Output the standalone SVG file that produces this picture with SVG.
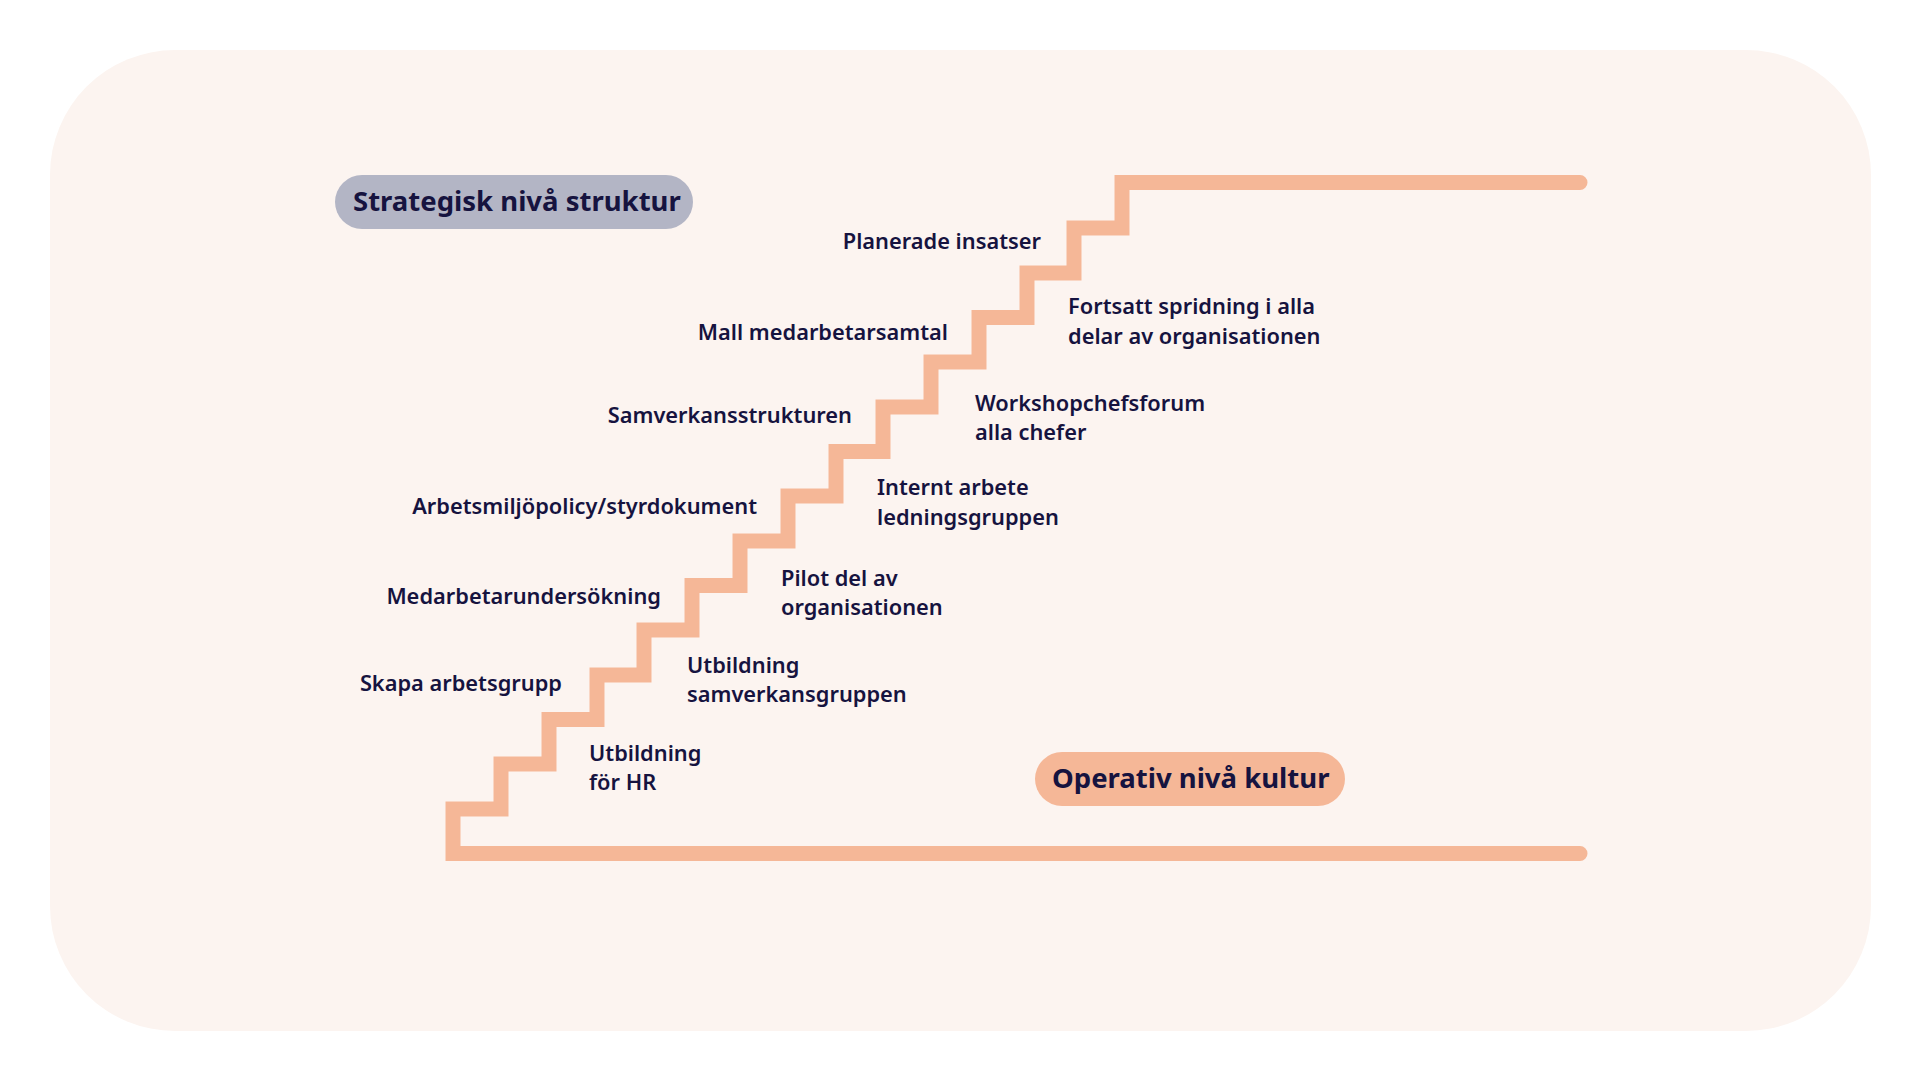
<svg xmlns="http://www.w3.org/2000/svg" width="1920" height="1080" viewBox="0 0 1920 1080">
<style>
.t{font-family:"Noto Sans","Liberation Sans",sans-serif;font-weight:600;font-size:21.8px;fill:#16133f}
.e{text-anchor:end}
.p{font-family:"Noto Sans","Liberation Sans",sans-serif;font-weight:700;font-size:27.5px;fill:#16133f}
</style>
<rect width="1920" height="1080" fill="#ffffff"/>
<rect x="50" y="50" width="1821" height="981" rx="125" fill="#fcf4f0"/>
<g id="connectors">
<path d="M1580 853.5 H453 V809 H501 V764 H549 V719.5 H597 V675 H644 V630 H692 V585.5 H740 V541 H788 V496 H836 V451.5 H883 V407 H931 V362 H979 V317.5 H1027 V273 H1074 V228 H1122 V182.5 H1580" fill="none" stroke="#f5b797" stroke-width="15" stroke-linejoin="miter" stroke-linecap="round"/>
</g>
<g id="strategisk"><rect x="335" y="175" width="358" height="54" rx="27" fill="#b3b5c5"/><text class="p" x="353" y="211">Strategisk nivå struktur</text></g>
<g id="operativ"><rect x="1035" y="752" width="310" height="54" rx="27" fill="#f5b797"/><text class="p" x="1052" y="788">Operativ nivå kultur</text></g>
<g id="n1"><text class="t e" x="1041" y="249">Planerade insatser</text></g>
<g id="n2"><text class="t e" x="948" y="340">Mall medarbetarsamtal</text></g>
<g id="n3"><text class="t e" x="852" y="423">Samverkansstrukturen</text></g>
<g id="n4"><text class="t e" x="757" y="514">Arbetsmiljöpolicy/styrdokument</text></g>
<g id="n5"><text class="t e" x="661" y="604">Medarbetarundersökning</text></g>
<g id="n6"><text class="t e" x="562" y="691">Skapa arbetsgrupp</text></g>
<g id="m1"><text class="t" x="1068" y="314">Fortsatt spridning i alla</text><text class="t" x="1068" y="344">delar av organisationen</text></g>
<g id="m2"><text class="t" x="975" y="411">Workshopchefsforum</text><text class="t" x="975" y="440">alla chefer</text></g>
<g id="m3"><text class="t" x="877" y="495">Internt arbete</text><text class="t" x="877" y="525">ledningsgruppen</text></g>
<g id="m4"><text class="t" x="781" y="586">Pilot del av</text><text class="t" x="781" y="615">organisationen</text></g>
<g id="m5"><text class="t" x="687" y="673">Utbildning</text><text class="t" x="687" y="702">samverkansgruppen</text></g>
<g id="m6"><text class="t" x="589" y="761">Utbildning</text><text class="t" x="589" y="790">för HR</text></g>
</svg>
